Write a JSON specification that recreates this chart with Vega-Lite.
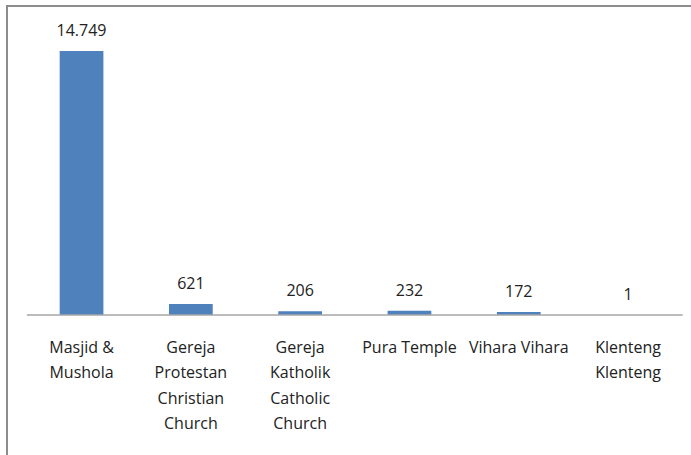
{
  "$schema": "https://vega.github.io/schema/vega-lite/v6.json",
  "width": 700,
  "height": 465,
  "padding": {"left": 7, "top": 6, "right": 0, "bottom": 0},
  "background": "white",
  "config": {
    "view": {"stroke": "#8c8c8c", "strokeWidth": 2},
    "font": "Open Sans"
  },
  "data": {
    "values": [
      {"tempat": "Masjid &|Mushola", "jumlah": 14749, "label": "14.749"},
      {"tempat": "Gereja|Protestan|Christian|Church", "jumlah": 621, "label": "621"},
      {"tempat": "Gereja|Katholik|Catholic|Church", "jumlah": 206, "label": "206"},
      {"tempat": "Pura Temple", "jumlah": 232, "label": "232"},
      {"tempat": "Vihara Vihara", "jumlah": 172, "label": "172"},
      {"tempat": "Klenteng|Klenteng", "jumlah": 1, "label": "1"}
    ]
  },
  "encoding": {
    "x": {
      "field": "tempat",
      "type": "nominal",
      "sort": null,
      "scale": {"paddingInner": 0.6, "paddingOuter": 0.502, "align": 0.48},
      "axis": {
        "title": null,
        "orient": "bottom",
        "offset": -156,
        "domain": false,
        "ticks": false,
        "labelAngle": 0,
        "labelExpr": "split(datum.value, '|')",
        "labelFont": "Open Sans",
        "labelFontSize": 16,
        "labelColor": "#222222",
        "labelLineHeight": 25.5,
        "labelPadding": 24,
        "labelBaseline": "top",
        "labelLimit": 200
      }
    }
  },
  "layer": [
    {
      "mark": {"type": "bar", "color": "#4F81BD"},
      "encoding": {
        "y": {
          "field": "jumlah",
          "type": "quantitative",
          "scale": {"domain": [-8716, 17263], "nice": false, "zero": false},
          "axis": null
        }
      }
    },
    {
      "mark": {"type": "text", "baseline": "bottom", "dy": -12, "fontSize": 16, "font": "Open Sans", "color": "#222222"},
      "encoding": {
        "y": {"field": "jumlah", "type": "quantitative"},
        "text": {"field": "label"}
      }
    },
    {
      "data": {"values": [{"z": 0}]},
      "mark": {"type": "rule", "color": "#a6a6a6", "strokeWidth": 1.5},
      "encoding": {
        "x": {"datum": "Masjid &|Mushola", "bandPosition": -0.75},
        "x2": {"datum": "Klenteng|Klenteng", "bandPosition": 1.75},
        "y": {"field": "z", "type": "quantitative"}
      }
    }
  ]
}
